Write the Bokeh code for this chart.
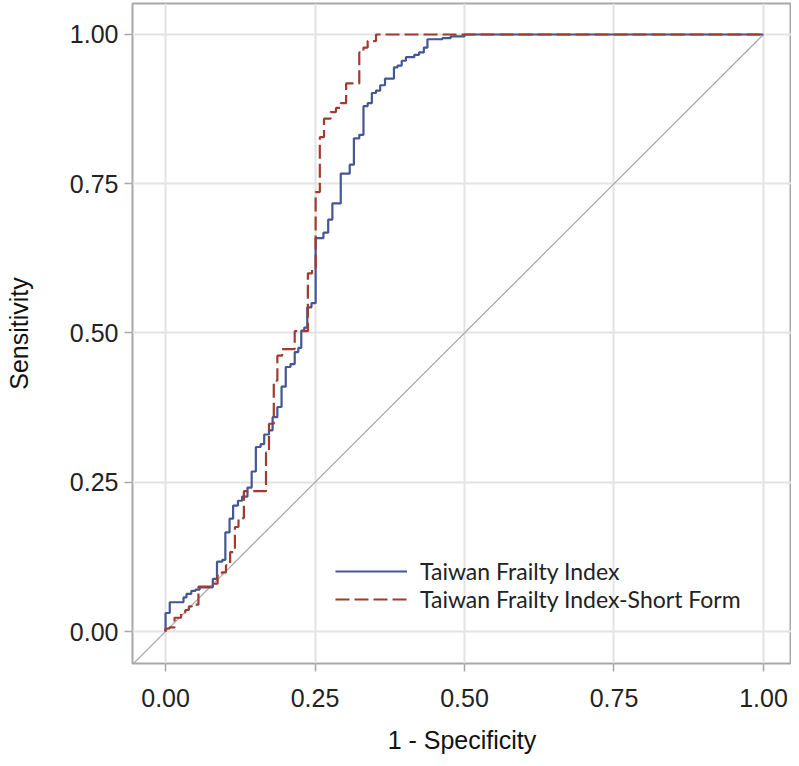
from bokeh.plotting import figure
from bokeh.models import FixedTicker, NumeralTickFormatter, Legend, LegendItem, Range1d
from bokeh.embed import file_html
from bokeh.resources import INLINE

# ROC points (1 - specificity, sensitivity), drawn as up-then-right steps
tfi_fpr = [0.000, 0.007, 0.030, 0.035, 0.043, 0.050, 0.057, 0.079, 0.086, 0.095,
           0.100, 0.107, 0.113, 0.121, 0.128, 0.137, 0.144, 0.151, 0.159, 0.165,
           0.173, 0.179, 0.187, 0.194, 0.201, 0.209, 0.216, 0.222, 0.227, 0.232,
           0.237, 0.244, 0.251, 0.264, 0.272, 0.279, 0.293, 0.308, 0.315, 0.324,
           0.331, 0.338, 0.345, 0.352, 0.359, 0.367, 0.382, 0.388, 0.395, 0.402,
           0.416, 0.424, 0.432, 0.438, 0.463, 0.477, 0.500, 1.000]
tfi_tpr = [0.000, 0.031, 0.049, 0.057, 0.063, 0.068, 0.070, 0.074, 0.088, 0.117,
           0.120, 0.166, 0.189, 0.211, 0.219, 0.226, 0.241, 0.268, 0.309, 0.314,
           0.330, 0.337, 0.359, 0.376, 0.410, 0.443, 0.448, 0.468, 0.475, 0.504,
           0.509, 0.543, 0.550, 0.659, 0.668, 0.690, 0.717, 0.767, 0.782, 0.826,
           0.832, 0.880, 0.885, 0.902, 0.906, 0.915, 0.926, 0.945, 0.948, 0.956,
           0.962, 0.966, 0.970, 0.978, 0.992, 0.994, 0.997, 1.000]

sf_fpr = [0.000, 0.007, 0.015, 0.026, 0.033, 0.039, 0.044, 0.055, 0.078, 0.087,
          0.094, 0.101, 0.108, 0.116, 0.122, 0.131, 0.168, 0.173, 0.181, 0.187,
          0.195, 0.216, 0.238, 0.245, 0.251, 0.258, 0.265, 0.276, 0.285, 0.293,
          0.302, 0.324, 0.331, 0.338, 0.352, 1.000]
sf_tpr = [0.000, 0.005, 0.007, 0.023, 0.032, 0.036, 0.042, 0.045, 0.075, 0.080,
          0.097, 0.099, 0.111, 0.133, 0.175, 0.190, 0.235, 0.300, 0.348, 0.420,
          0.462, 0.473, 0.503, 0.600, 0.606, 0.736, 0.828, 0.859, 0.870, 0.877,
          0.885, 0.918, 0.970, 0.978, 0.989, 1.000]

ref_x = [-0.1, 1.0]
ref_y = [-0.1, 1.0]

tick_vals = [0.0, 0.25, 0.5, 0.75, 1.0]
series_names = ["Taiwan Frailty Index", "Taiwan Frailty Index-Short Form"]

BLUE = "#445694"
RED = "#A23A2E"
GRID = "#E3E3E3"
FRAME = "#A8A8A8"

p = figure(width=791, height=758, output_backend="svg", toolbar_location=None,
           x_range=Range1d(-0.0553, 1.0469), y_range=Range1d(-0.0536, 1.0519),
           min_border_left=132, min_border_right=0, min_border_top=3, min_border_bottom=95)

p.background_fill_color = "white"
p.border_fill_color = "white"
p.outline_line_color = FRAME
p.outline_line_width = 2

for ax in (p.xaxis[0], p.yaxis[0]):
    ax.ticker = FixedTicker(ticks=tick_vals)
    ax.formatter = NumeralTickFormatter(format="0.00")
    ax.axis_line_color = None
    ax.major_tick_line_color = FRAME
    ax.major_tick_line_width = 1.5
    ax.major_tick_out = 8
    ax.major_tick_in = 0
    ax.minor_tick_line_color = None
    ax.major_label_text_font = "Liberation Sans"
    ax.major_label_text_font_size = "25px"
    ax.major_label_text_color = "#222222"
    ax.axis_label_text_font = "Liberation Sans"
    ax.axis_label_text_font_size = "25px"
    ax.axis_label_text_font_style = "normal"
    ax.axis_label_text_color = "#111111"

p.xaxis.axis_label = "1 - Specificity"
p.yaxis.axis_label = "Sensitivity"
p.xaxis.major_label_standoff = 17
p.yaxis.major_label_standoff = 6
p.xaxis.axis_label_standoff = 16
p.yaxis.axis_label_standoff = 34

p.xgrid.grid_line_color = GRID
p.ygrid.grid_line_color = GRID
p.xgrid.grid_line_width = 2
p.ygrid.grid_line_width = 2

p.line(ref_x, ref_y, line_color="#A8A8A8", line_width=1.2)

r1 = p.step(tfi_fpr, tfi_tpr, mode="before", line_color=BLUE, line_width=2.2)
r2 = p.step(sf_fpr, sf_tpr, mode="before", line_color=RED, line_width=2.2, line_dash="14 5")

legend = Legend(items=[LegendItem(label=series_names[0], renderers=[r1]),
                       LegendItem(label=series_names[1], renderers=[r2])],
                location=(203, 50))
legend.background_fill_alpha = 0
legend.border_line_color = None
legend.padding = 0
legend.margin = 0
legend.spacing = 0
legend.glyph_width = 72
legend.glyph_height = 28
legend.label_height = 28
legend.label_standoff = 13
legend.label_text_font = "Lato"
legend.label_text_font_size = "23px"
legend.label_text_color = "#222222"
p.add_layout(legend, "center")

open("out.html", "w").write(file_html(p, INLINE))
